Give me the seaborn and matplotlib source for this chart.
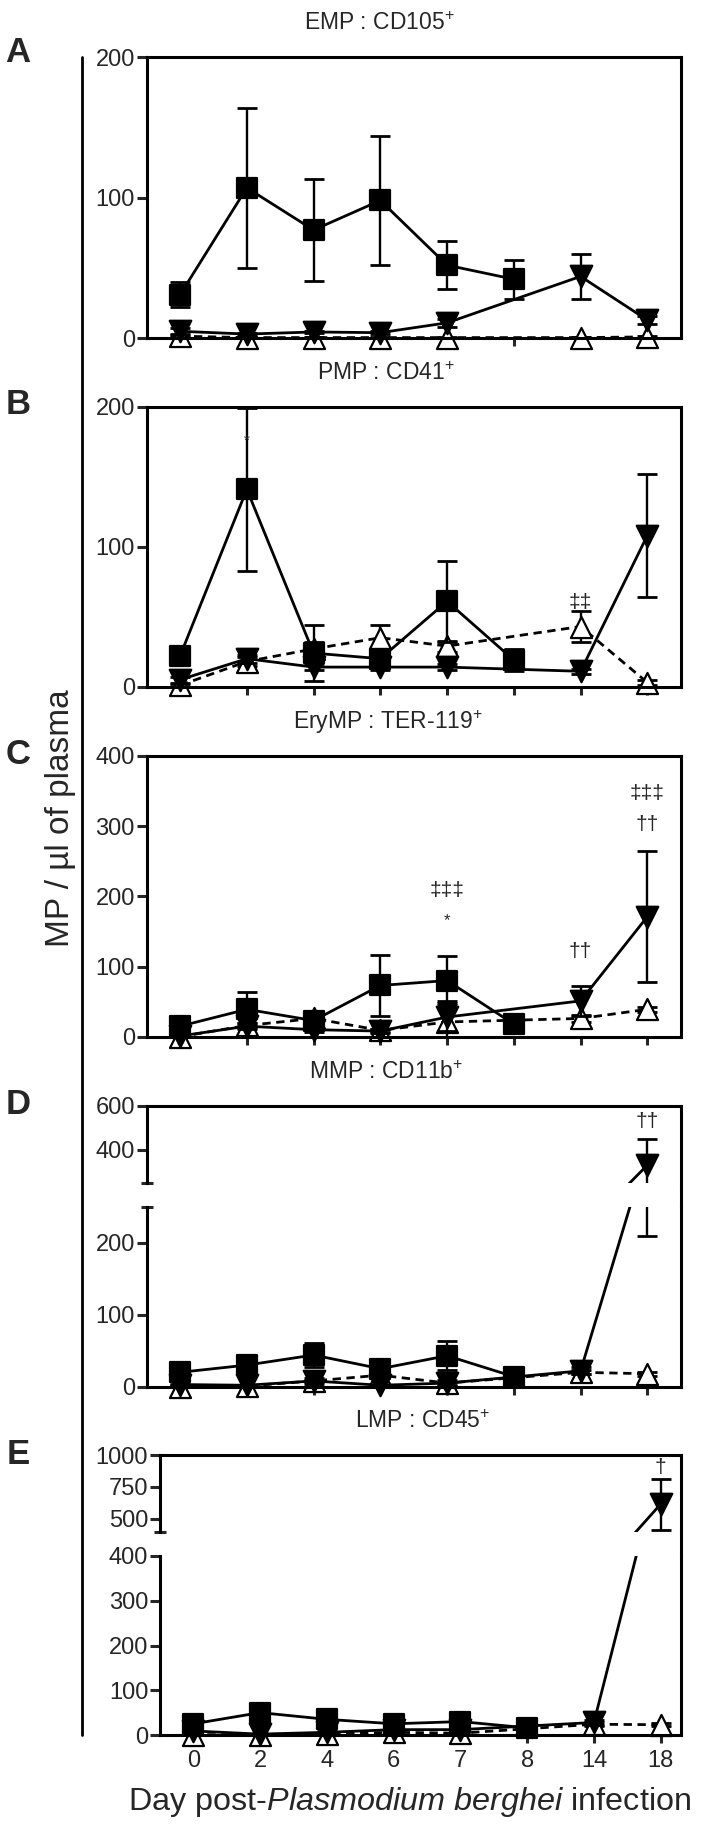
import numpy as np
import pandas as pd
import seaborn as sns
import matplotlib.pyplot as plt
from matplotlib.lines import Line2D

# ===== STYLE =====
sns.set_style("ticks")
plt.rcParams['font.family'] = ['Liberation Sans', 'DejaVu Sans']
plt.rcParams['mathtext.fontset'] = 'custom'
plt.rcParams['mathtext.rm'] = 'Liberation Sans'
plt.rcParams['mathtext.it'] = 'Liberation Sans:italic'

# ===== DATA =====
nan = np.nan
days = ["0", "2", "4", "6", "7", "8", "14", "18"]

# A - EMP : CD105+
emp_sq = [31, 107, 77, 98, 52, 42, nan, nan]
emp_sq_err = [9, 57, 36, 46, 17, 14, nan, nan]
emp_tri = [5, 3, 4.5, 4, 11, nan, 44, 13]
emp_tri_err = [2, 1, 1, 1, 3, nan, 16, 3]
emp_ctl = [1.5, 0.5, 0.5, 0.5, 0.5, nan, 0.5, 1]
emp_ctl_err = [0.5, 0.5, 0.5, 0.5, 0.5, nan, 0.5, 0.5]

# B - PMP : CD41+
pmp_sq = [22, 141, 24, 20, 61, 19, nan, nan]
pmp_sq_err = [3, 58, 20, 6, 29, 8, nan, nan]
pmp_tri = [5, 20, 14, 14, 14, nan, 11, 108]
pmp_tri_err = [2, 3, 2, 2, 2, nan, 2, 44]
pmp_ctl = [1, 18, 27, 35, 29, nan, 43, 3]
pmp_ctl_err = [1, 3, 5, 9, 4, nan, 11, 2]

# C - EryMP : TER-119+
ery_sq = [15, 39, 23, 73, 80, 18, nan, nan]
ery_sq_err = [3, 24, 8, 43, 35, 3, nan, nan]
ery_tri = [1, 15, 10, 8, 28, nan, 51, 171]
ery_tri_err = [1, 4, 3, 3, 20, nan, 21, 93]
ery_ctl = [0, 16, 26, 9, 21, nan, 26, 39]
ery_ctl_err = [0.5, 3, 4, 2, 30, nan, 5, 4]

# D - MMP : CD11b+
mmp_sq = [20, 30, 44, 25, 43, 14, nan, nan]
mmp_sq_err = [4, 6, 17, 5, 20, 3, nan, nan]
mmp_tri = [3, 2, 8, 2, 5, nan, 22, 330]
mmp_tri_err = [1, 1, 4, 1, 4, nan, 5, 120]
mmp_ctl = [0, 1, 8, 16, 5, nan, 20, 18]
mmp_ctl_err = [0.5, 0.5, 2, 3, 2, nan, 3, 3]

# E - LMP : CD45+
lmp_sq = [25, 50, 35, 25, 30, 16, nan, nan]
lmp_sq_err = [4, 6, 5, 4, 5, 3, nan, nan]
lmp_tri = [9, 2, 6, 12, 12, nan, 28, 615]
lmp_tri_err = [2, 1, 2, 2, 2, nan, 6, 200]
lmp_ctl = [1, 0, 2, 6, 4, nan, 24, 23]
lmp_ctl_err = [0.5, 0.5, 1, 2, 1, nan, 4, 3]

titles = ["EMP : CD105$^{+}$", "PMP : CD41$^{+}$", "EryMP : TER-119$^{+}$",
          "MMP : CD11b$^{+}$", "LMP : CD45$^{+}$"]
letters = ["A", "B", "C", "D", "E"]

# significance marks: (panel, day index, y, text, fontsize)
marks = [(1, 1, 176, "*", 11),
         (1, 6, 60, "\u2021\u2021", 15),
         (2, 4, 209, "\u2021\u2021\u2021", 15),
         (2, 4, 166, "*", 12),
         (2, 6, 121, "\u2020\u2020", 15),
         (2, 7, 347, "\u2021\u2021\u2021", 15),
         (2, 7, 302, "\u2020\u2020", 15),
         (3, 7, 530, "\u2020\u2020", 15),
         (4, 7, 905, "\u2020", 15)]

panels = [
    dict(sq=emp_sq, sq_err=emp_sq_err, tri=emp_tri, tri_err=emp_tri_err, ctl=emp_ctl, ctl_err=emp_ctl_err),
    dict(sq=pmp_sq, sq_err=pmp_sq_err, tri=pmp_tri, tri_err=pmp_tri_err, ctl=pmp_ctl, ctl_err=pmp_ctl_err),
    dict(sq=ery_sq, sq_err=ery_sq_err, tri=ery_tri, tri_err=ery_tri_err, ctl=ery_ctl, ctl_err=ery_ctl_err),
    dict(sq=mmp_sq, sq_err=mmp_sq_err, tri=mmp_tri, tri_err=mmp_tri_err, ctl=mmp_ctl, ctl_err=mmp_ctl_err),
    dict(sq=lmp_sq, sq_err=lmp_sq_err, tri=lmp_tri, tri_err=lmp_tri_err, ctl=lmp_ctl, ctl_err=lmp_ctl_err),
]

# series style: key, marker, face colour, linestyle, marker area, zorder
series = [("ctl", "^", "white", (0, (3, 2)), 230, 2),
          ("tri", "v", "black", "-", 240, 4),
          ("sq", "s", "black", "-", 215, 6)]

# ===== LAYOUT (figure pixels, top origin) =====
W, H = 702, 1825
# (left, right, [(top, bottom, ylo, yhi, yticks), ...])
layout = [
    (146.7, 680.7, [(57.0, 338.3, 0, 200, [0, 100, 200])]),
    (146.7, 680.7, [(406.7, 686.7, 0, 200, [0, 100, 200])]),
    (146.7, 680.7, [(756.0, 1036.7, 0, 400, [0, 100, 200, 300, 400])]),
    (146.7, 680.7, [(1105.7, 1182.7, 250, 600, [400, 600]),
                    (1206.7, 1386.7, 0, 250, [0, 100, 200])]),
    (160.0, 680.7, [(1455.0, 1531.5, 400, 1000, [500, 750, 1000]),
                    (1556.0, 1735.0, 0, 400, [0, 100, 200, 300, 400])]),
]
title_x = [379, 386, 388, 386, 423]
letter_y = [53, 404, 754, 1104, 1454]

LW = 2.0


def draw(ax, panel, lo, hi):
    x = np.arange(len(days))
    for key, m, fc, ls, size, z in series:
        df = pd.DataFrame({"x": x, "y": panel[key], "e": panel[key + "_err"]}).dropna(subset=["y"])
        ax.errorbar(df["x"], df["y"], yerr=df["e"], fmt="none", ecolor="black",
                    elinewidth=1.7, capsize=7.5, capthick=2.0, zorder=z)
        sns.lineplot(data=df, x="x", y="y", ax=ax, color="black", lw=LW,
                     linestyle=ls, estimator=None, errorbar=None, zorder=z, legend=False)
        inside = df[(df["y"] >= lo) & (df["y"] <= hi)]
        sns.scatterplot(data=inside, x="x", y="y", ax=ax, marker=m, s=size,
                        color=fc, edgecolor="black", linewidth=1.6,
                        zorder=z + 0.5, clip_on=False, legend=False)


fig = plt.figure(figsize=(W / 100, H / 100), dpi=100)

for i, (left, right, segs) in enumerate(layout):
    axes = []
    for j, (top, bottom, lo, hi, yt) in enumerate(segs):
        ax = fig.add_axes([left / W, 1 - bottom / H, (right - left) / W, (bottom - top) / H])
        draw(ax, panels[i], lo, hi)
        ax.set_ylim(lo, hi)
        ax.set_xlim(-0.5, 7.3 if i == 4 else 7.5)
        ax.set_yticks(yt)
        ax.set_yticklabels([str(v) for v in yt])
        ax.set_xticks(range(len(days)))
        ax.set_xlabel("")
        ax.set_ylabel("")
        for s in ax.spines.values():
            s.set_linewidth(2.2)
            s.set_color("black")
        ax.tick_params(axis="y", direction="out", length=7.5, width=2.2, labelsize=17, pad=1)
        ax.tick_params(axis="x", direction="out", length=5.5, width=2.2, labelsize=17, pad=5)
        last = j == len(segs) - 1
        if last and i == 4:
            ax.set_xticklabels(days)
        else:
            ax.set_xticklabels([])
        if len(segs) > 1:
            if j == 0:
                ax.spines["bottom"].set_visible(False)
                ax.tick_params(axis="x", bottom=False)
                ax.set_yticks([lo], minor=True)
            else:
                ax.spines["top"].set_visible(False)
                ax.set_yticks([hi], minor=True)
            ax.tick_params(axis="y", which="minor", direction="inout", length=9, width=2.2)
        axes.append(ax)
    # continuous right frame across the axis break
    if len(axes) > 1:
        fig.add_artist(Line2D([right / W, right / W], [1 - segs[0][1] / H, 1 - segs[1][0] / H],
                              transform=fig.transFigure, color="black", lw=2.2))
    # significance marks
    for p, xi, yv, txt, fs in marks:
        if p != i:
            continue
        for ax, (top, bottom, lo, hi, yt) in zip(axes, segs):
            if lo <= yv <= hi:
                ax.text(xi, yv, txt, ha="center", va="center", fontsize=fs, zorder=10)
    top0 = segs[0][0]
    fig.text(title_x[i] / W, 1 - (top0 - 26.5) / H, titles[i], ha="center",
             va="baseline", fontsize=16.5)
    fig.text(18 / W, 1 - letter_y[i] / H, letters[i], ha="center", va="center",
             fontsize=25, fontweight="bold")

# long vertical rule beside the y label
fig.add_artist(Line2D([82 / W, 82 / W], [1 - 57 / H, 1 - 1735 / H],
                      transform=fig.transFigure, color="black", lw=2.0))

fig.text(60 / W, 1 - 818 / H, "MP / \u00b5l of plasma", rotation=90,
         ha="center", va="center", fontsize=24)
fig.text(410 / W, 1 - 1802 / H, "Day post-$\\it{Plasmodium\\ berghei}$ infection",
         ha="center", va="center", fontsize=23.3)

fig.savefig("out.png", dpi=100)
